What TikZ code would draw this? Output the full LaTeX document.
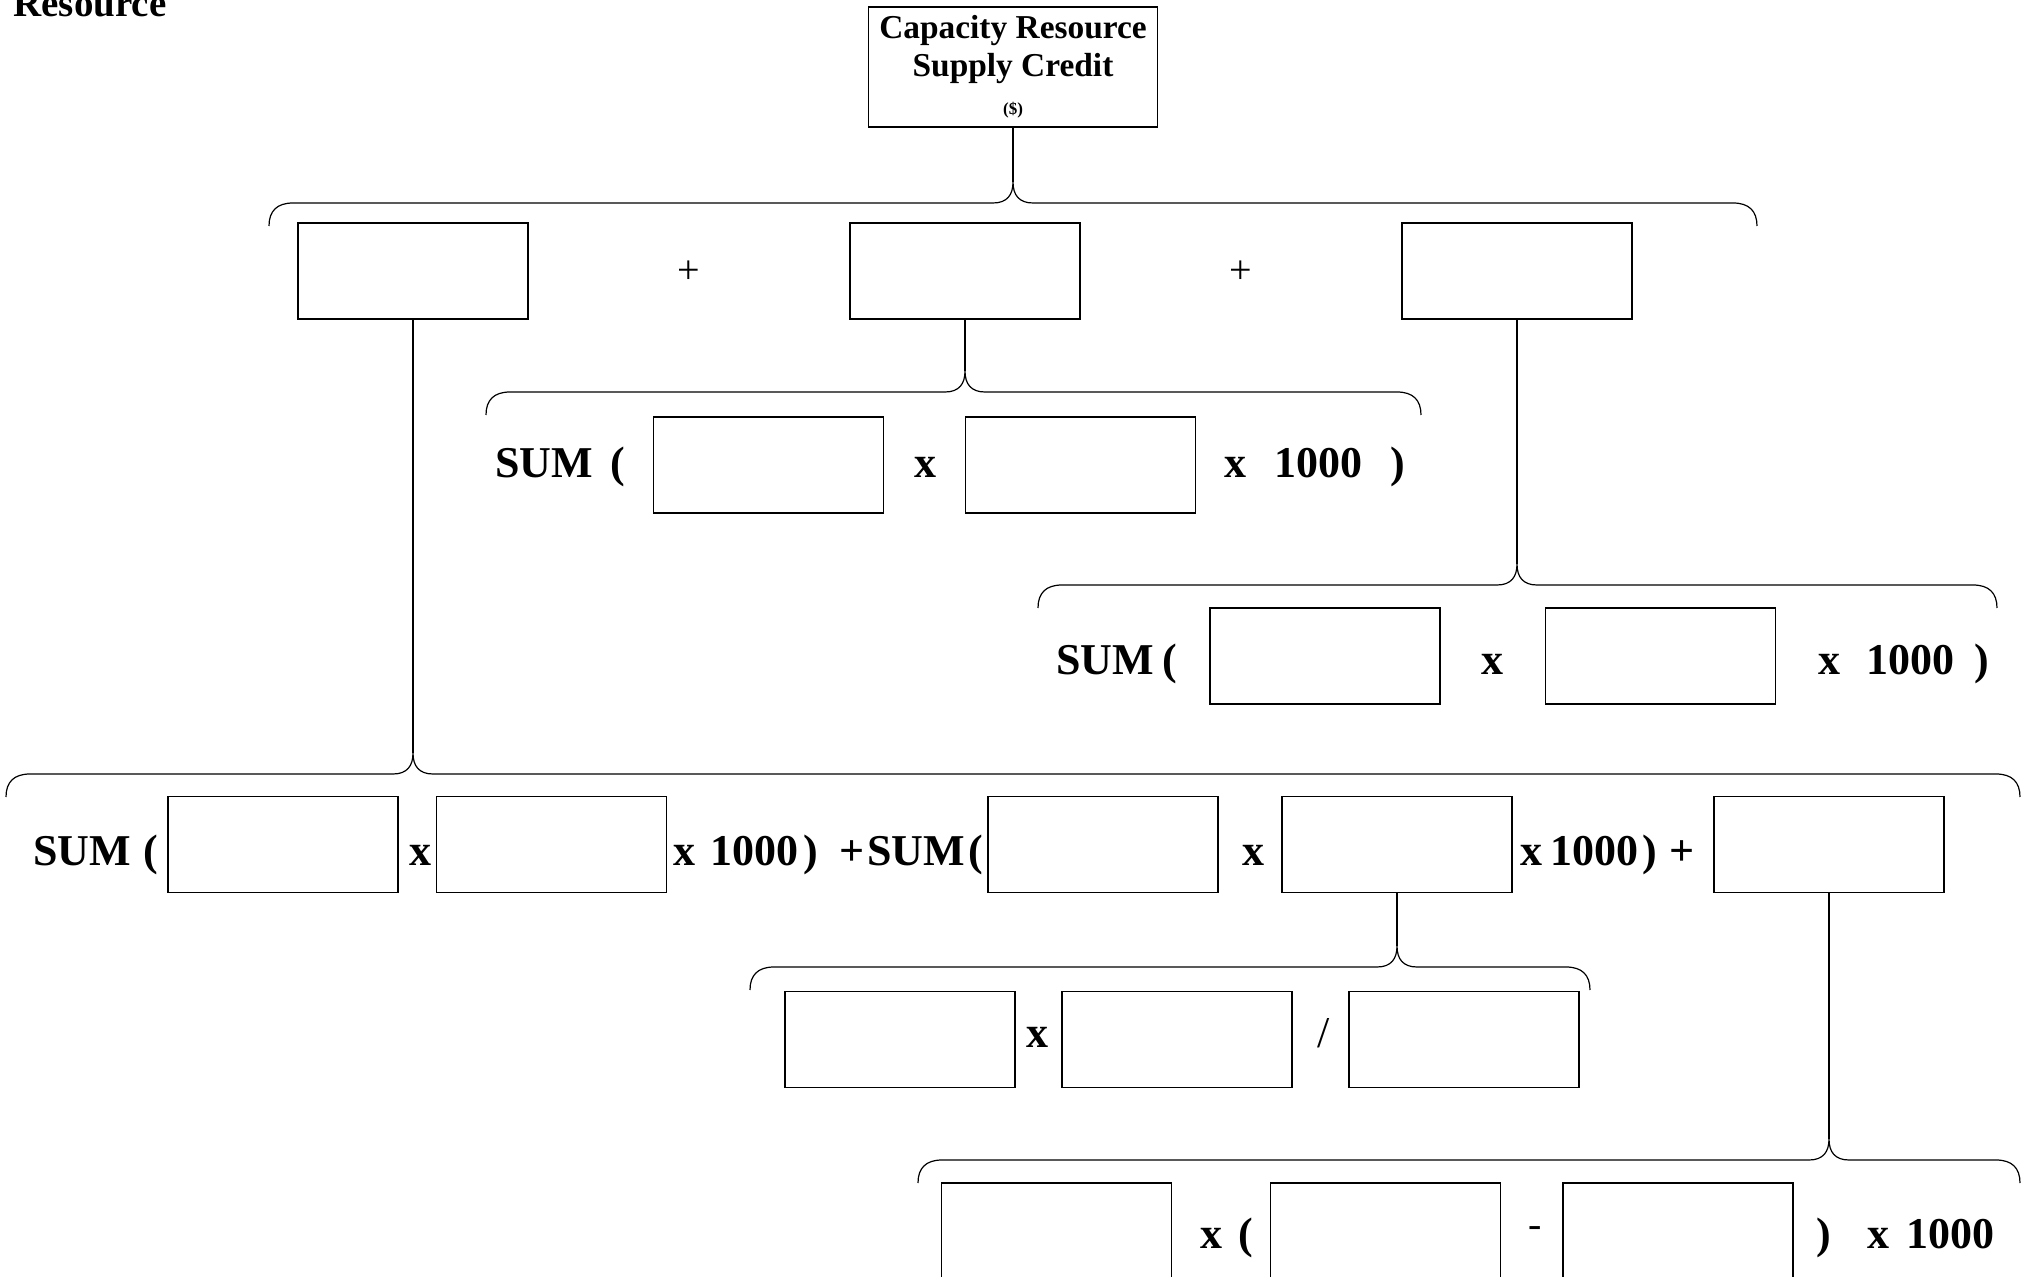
\documentclass[tikz,border=0pt]{standalone}
\usepackage{fontspec}
\setmainfont{Liberation Serif}
\newcommand\hbrace[5]{%
  \coordinate (#5) at (#3,#4-21);
  \draw[ln] (#1,#4+23) .. controls (#1,#4+8) and (#1+8,#4) .. (#1+24,#4) -- (#3-20,#4)
    .. controls (#3-6,#4) and (#3,#4-8) .. (#5)
    .. controls (#3,#4-8) and (#3+6,#4) .. (#3+20,#4) -- (#2-24,#4)
    .. controls (#2-8,#4) and (#2,#4+8) .. (#2,#4+23);}
\begin{document}
\begin{tikzpicture}[x=0.5pt,y=-0.5pt,
  ln/.style={line width=0.6pt,black},
  bx/.style={draw,line width=0.6pt,minimum width=115pt,minimum height=48pt,inner sep=0pt},
  op/.style={font=\fontsize{22}{26}\selectfont\bfseries,inner sep=0pt,anchor=base},
  thin op/.style={font=\fontsize{20}{24}\selectfont,inner sep=0pt},
  ttl/.style={font=\fontsize{16.7}{20}\selectfont\bfseries,inner sep=0pt,anchor=base}]
\useasboundingbox (0,0) rectangle (2025,1277);
\fill[white] (0,0) rectangle (2025,1277);

% heading cut at the top
\node[font=\fontsize{19.5}{22}\selectfont\bfseries,inner sep=0pt,anchor=base west] (hd) at (13,17) {Resource};

% top box
\node[draw,line width=0.6pt,minimum width=144.5pt,minimum height=60pt,inner sep=0pt] (top) at (1013,67) {};
\node[ttl] (tl1) at (1013,39) {Capacity Resource};
\node[ttl] (tl2) at (1013,77) {Supply Credit};
\node[font=\fontsize{8.5}{10}\selectfont\bfseries,inner sep=0pt,anchor=base] (tl3) at (1013,115) {(\$)};

% brace 1 and row 1
\hbrace{269}{1757}{1013}{203}{t1}
\draw[ln] (top.south) -- (t1);
\node[bx] (A) at (413,271) {};
\node[thin op] (p1) at (689,272) {+};
\node[bx] (B) at (965,271) {};
\node[thin op] (p2) at (1241,272) {+};
\node[bx] (C) at (1517,271) {};

% brace 2 and row 2
\hbrace{486}{1421}{965}{392}{t2}
\draw[ln] (B.south) -- (t2);
\node[op,anchor=base west] (s2) at (495,478) {SUM};
\node[op] (l2) at (618,478) {(};
\node[bx] (D) at (768.5,465) {};
\node[op] (x2a) at (925,478) {x};
\node[bx] (E) at (1080.5,465) {};
\node[op] (x2b) at (1235,478) {x};
\node[op] (n2) at (1318,478) {1000};
\node[op] (r2) at (1398,478) {)};

% brace 3 and row 3
\hbrace{1038}{1997}{1517}{585}{t3}
\draw[ln] (C.south) -- (t3);
\node[op,anchor=base west] (s3) at (1056,675) {SUM};
\node[op] (l3) at (1170,675) {(};
\node[bx] (F) at (1325,656) {};
\node[op] (x3a) at (1492,675) {x};
\node[bx] (G) at (1660.5,656) {};
\node[op] (x3b) at (1829,675) {x};
\node[op] (n3) at (1910,675) {1000};
\node[op] (r3) at (1982,675) {)};

% brace 4 and row 4
\hbrace{6}{2020}{413}{774}{t4}
\draw[ln] (A.south) -- (t4);
\node[op,anchor=base west] (s4) at (33,866) {SUM};
\node[op] (l4) at (151,866) {(};
\node[bx] (H) at (283,844.5) {};
\node[op] (x4a) at (420,866) {x};
\node[bx] (I) at (551.5,844.5) {};
\node[op] (x4b) at (684,866) {x};
\node[op] (n4a) at (754,866) {1000};
\node[op] (r4a) at (811,866) {)};
\node[op] (p4a) at (852,866) {+};
\node[op,anchor=base west] (s4b) at (867,866) {SUM};
\node[op] (l4b) at (976,866) {(};
\node[bx] (J) at (1103,844.5) {};
\node[op] (x4c) at (1253,866) {x};
\node[bx] (K) at (1397,844.5) {};
\node[op] (x4d) at (1531,866) {x};
\node[op] (n4b) at (1594,866) {1000};
\node[op] (r4b) at (1650,866) {)};
\node[op] (p4b) at (1682,866) {+};
\node[bx] (L) at (1829,844.5) {};

% brace 5 and row 5
\hbrace{750}{1590}{1397}{967}{t5}
\draw[ln] (K.south) -- (t5);
\node[bx] (M) at (900,1039.5) {};
\node[op] (x5) at (1037,1047) {x};
\node[bx] (N) at (1177,1039.5) {};
\node[font=\fontsize{22}{26}\selectfont,inner sep=0pt,anchor=base] (d5) at (1324,1047) {/};
\node[bx] (O) at (1464,1039.5) {};

% brace 6 and row 6
\hbrace{918}{2020}{1829}{1160}{t6}
\draw[ln] (L.south) -- (t6);
\node[bx] (P) at (1056.5,1231) {};
\node[op] (x6a) at (1211,1248) {x};
\node[op] (l6) at (1246,1248) {(};
\node[bx] (Q) at (1385.5,1231) {};
\node[thin op] (m6) at (1535,1232) {-};
\node[bx] (R) at (1678,1231) {};
\node[op] (r6) at (1824,1248) {)};
\node[op] (x6b) at (1878,1248) {x};
\node[op] (n6) at (1950,1248) {1000};
\end{tikzpicture}
\end{document}
